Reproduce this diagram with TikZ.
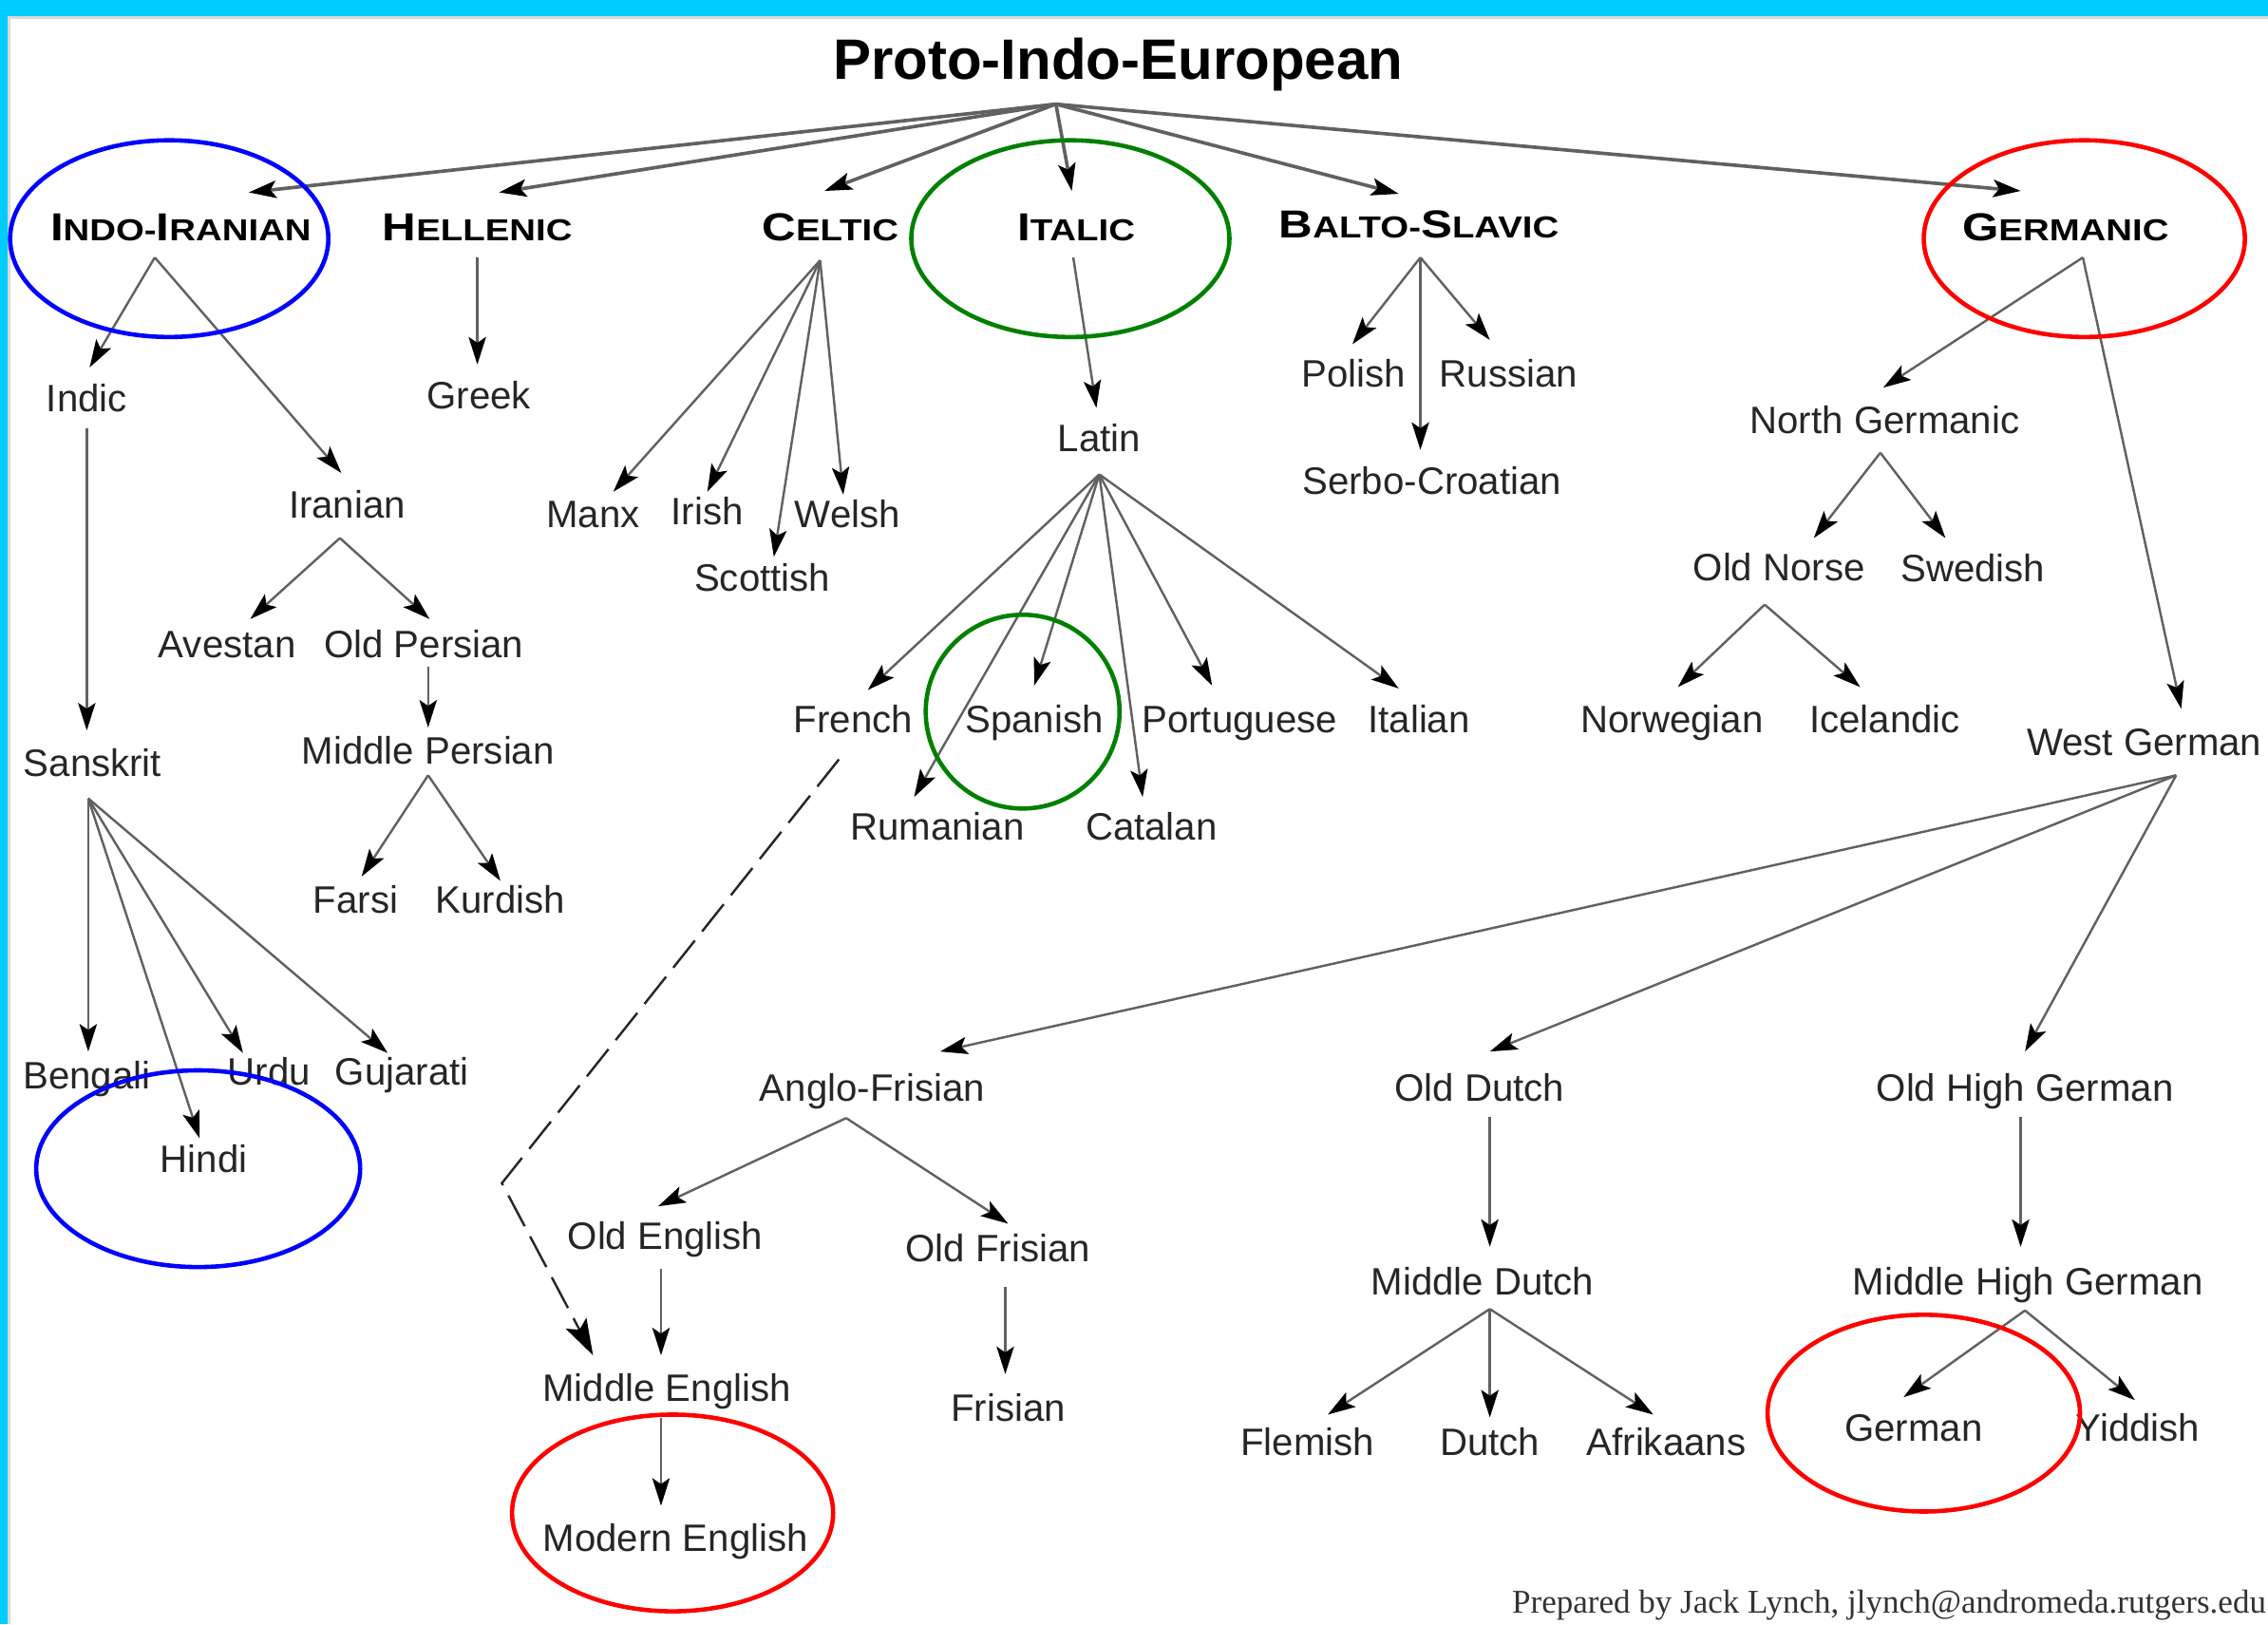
\documentclass[tikz,border=0pt]{standalone}
\usepackage{fontspec}
\setmainfont{Liberation Sans}
\newfontfamily\credfont{Liberation Serif}
\usetikzlibrary{arrows.meta,calc}
\definecolor{band}{HTML}{00CCFF}
\definecolor{ringblue}{HTML}{0000FF}
\definecolor{ringgreen}{HTML}{008000}
\definecolor{ringred}{HTML}{FF0000}
\newcommand\hbig[1]{{\fontsize{13.5}{14}\selectfont #1}}
\newcommand\hsmall[1]{{\fontsize{10.5}{11}\selectfont #1}}
\newcommand\hdg[1]{\scalebox{1.2}[1]{\bfseries #1}}
\newcommand\arw[5][conn]{\draw[#1] ($(#2)+(#3)$) -- ($(#4)+(#5)$);}
\tikzset{
  lang/.style={inner sep=0pt, text height=9.5pt, text depth=0pt,
    font=\fontsize{13.2}{14}\selectfont, text=black!85},
  head/.style={inner sep=0pt, text height=9.7pt, text depth=0pt, text=black},
  conn/.style={draw=black!62, line width=0.8pt,
    -{Stealth[length=9.5pt,width=6pt,inset=2pt,black]}},
  bigconn/.style={conn, line width=1.2pt},
  ring/.style={line width=1.5pt},
}
\begin{document}
\begin{tikzpicture}[x=0.5pt,y=-0.5pt]
\useasboundingbox (0,0) rectangle (1568,1123);
% frame
\fill[band] (0,0) rectangle (1568,11);
\fill[black!15] (5,11) rectangle (1568,13);
\fill[band] (0,0) rectangle (5,1123);
\fill[black!15] (5,11) rectangle (7,1123);

% title
\node[inner sep=0pt, text height=14.1pt, text depth=0pt, font=\bfseries\fontsize{19.7}{22}\selectfont] (pie) at (773,41) {Proto-Indo-European};

% headings
\node[head] (indoiranian) at (125,157) {\hdg{\hbig{I}\hsmall{NDO-}\hbig{I}\hsmall{RANIAN}}};
\node[head] (hellenic) at (330,157) {\hdg{\hbig{H}\hsmall{ELLENIC}}};
\node[head] (celtic) at (574,157) {\hdg{\hbig{C}\hsmall{ELTIC}}};
\node[head] (italic) at (744,157) {\hdg{\hbig{I}\hsmall{TALIC}}};
\node[head] (baltoslavic) at (981,155) {\hdg{\hbig{B}\hsmall{ALTO-}\hbig{S}\hsmall{LAVIC}}};
\node[head] (germanic) at (1428,157) {\hdg{\hbig{G}\hsmall{ERMANIC}}};

% Indo-Iranian
\node[lang] (indic) at (60,275) {Indic};
\node[lang] (iranian) at (240,349) {Iranian};
\node[lang] (avestan) at (157,445) {Avestan};
\node[lang] (oldpersian) at (293,445) {Old Persian};
\node[lang] (midpersian) at (296,519) {Middle Persian};
\node[lang] (farsi) at (246,622) {Farsi};
\node[lang] (kurdish) at (346,622) {Kurdish};
\node[lang] (sanskrit) at (64,527) {Sanskrit};
\node[lang] (bengali) at (60,743) {Bengali};
\node[lang] (urdu) at (186,741) {Urdu};
\node[lang] (gujarati) at (278,741) {Gujarati};
\node[lang] (hindi) at (141,801) {Hindi};
% Hellenic, Celtic
\node[lang] (greek) at (331,273) {Greek};
\node[lang] (manx) at (410,355) {Manx};
\node[lang] (irish) at (489,353) {Irish};
\node[lang] (welsh) at (586,355) {Welsh};
\node[lang] (scottish) at (527,399) {Scottish};
% Italic
\node[lang] (latin) at (760,303) {Latin};
\node[lang] (french) at (590,497) {French};
\node[lang] (spanish) at (715,497) {Spanish};
\node[lang] (portuguese) at (857,497) {Portuguese};
\node[lang] (italian) at (981,497) {Italian};
\node[lang] (rumanian) at (648,571) {Rumanian};
\node[lang] (catalan) at (796,571) {Catalan};
% Balto-Slavic
\node[lang] (polish) at (936,258) {Polish};
\node[lang] (russian) at (1043,258) {Russian};
\node[lang] (serbocroatian) at (990,332) {Serbo-Croatian};
% Germanic
\node[lang] (northgerm) at (1303,290) {North Germanic};
\node[lang] (oldnorse) at (1230,392) {Old Norse};
\node[lang] (swedish) at (1364,393) {Swedish};
\node[lang] (norwegian) at (1156,497) {Norwegian};
\node[lang] (icelandic) at (1303,497) {Icelandic};
\node[lang, anchor=east] (westgerm) at (1564,513) {West German};
\coordinate (wg) at (1493,513);
\node[lang] (anglofrisian) at (603,752) {Anglo-Frisian};
\node[lang] (oldenglish) at (460,854) {Old English};
\node[lang] (oldfrisian) at (690,863) {Old Frisian};
\node[lang] (midenglish) at (461,959) {Middle English};
\node[lang] (frisian) at (697,973) {Frisian};
\node[lang] (modenglish) at (467,1063) {Modern English};
\node[lang] (olddutch) at (1023,752) {Old Dutch};
\node[lang] (middutch) at (1025,886) {Middle Dutch};
\node[lang] (flemish) at (904,997) {Flemish};
\node[lang] (dutch) at (1030,997) {Dutch};
\node[lang] (afrikaans) at (1152,997) {Afrikaans};
\node[lang] (ohg) at (1400,752) {Old High German};
\node[lang] (mhg) at (1402,886) {Middle High German};
\node[lang] (german) at (1323,987) {German};
\node[lang] (yiddish) at (1478,987) {Yiddish};

% credit
\node[anchor=base west, inner sep=0pt, font=\credfont\fontsize{11.5}{12}\selectfont, text=black!80] (credit) at (1045,1115) {Prepared by Jack Lynch, jlynch@andromeda.rutgers.edu};

% PIE arrows
\arw[bigconn]{pie}{-43,31}{indoiranian}{47,-24}
\arw[bigconn]{pie}{-43,31}{hellenic}{15,-24}
\arw[bigconn]{pie}{-43,31}{celtic}{-4,-25}
\arw[bigconn]{pie}{-43,31}{italic}{-3,-25}
\arw[bigconn]{pie}{-43,31}{baltoslavic}{-14,-21}
\arw[bigconn]{pie}{-43,31}{germanic}{-31,-25}

% Indo-Iranian
\arw{indoiranian}{-18,21}{indic}{2,-21}
\arw{indoiranian}{-18,21}{iranian}{-4,-22}
\arw{iranian}{-5,23}{avestan}{16,-17}
\arw{iranian}{-5,23}{oldpersian}{4,-17}
\arw{oldpersian}{3,16}{midpersian}{0,-16}
\arw{midpersian}{0,17}{farsi}{4,-16}
\arw{midpersian}{0,17}{kurdish}{0,-13}
\arw{indic}{0,21}{sanskrit}{-4,-22}
\arw{sanskrit}{-3,25}{bengali}{1,-16}
\arw{sanskrit}{-3,25}{hindi}{-3,-14}
\arw{sanskrit}{-3,25}{urdu}{-18,-13}
\arw{sanskrit}{-3,25}{gujarati}{-10,-13}
% Hellenic
\arw{hellenic}{0,21}{greek}{-1,-21}
% Celtic
\arw{celtic}{-7,23}{manx}{14,-15}
\arw{celtic}{-7,23}{irish}{0,-13}
\arw{celtic}{-7,23}{scottish}{8,-14}
\arw{celtic}{-7,23}{welsh}{-3,-13}
% Italic
\arw{italic}{-2,21}{latin}{-2,-21}
\arw{latin}{0,25}{french}{10,-20}
\arw{latin}{0,25}{rumanian}{-16,-20}
\arw{latin}{0,25}{spanish}{0,-23}
\arw{latin}{0,25}{catalan}{-6,-20}
\arw{latin}{0,25}{portuguese}{-19,-23}
\arw{latin}{0,25}{italian}{-14,-21}
% Balto-Slavic
\arw{baltoslavic}{1,23}{polish}{-1,-20}
\arw{baltoslavic}{1,23}{russian}{-13,-23}
\arw{baltoslavic}{1,23}{serbocroatian}{-8,-21}
% Germanic
\arw{germanic}{12,21}{northgerm}{-1,-22}
\arw{germanic}{12,21}{wg}{15,-23}
\arw{northgerm}{-3,23}{oldnorse}{24,-20}
\arw{northgerm}{-3,23}{swedish}{-19,-21}
\arw{oldnorse}{-10,26}{norwegian}{4,-22}
\arw{oldnorse}{-10,26}{icelandic}{-17,-22}
\arw{wg}{11.5,23}{anglofrisian}{47,-25}
\arw{wg}{11.5,23}{olddutch}{7,-25}
\arw{wg}{11.5,23}{ohg}{0,-25}
\arw{anglofrisian}{-18,21}{oldenglish}{-5,-20}
\arw{anglofrisian}{-18,21}{oldfrisian}{7,-17}
\arw{oldenglish}{-3,23}{midenglish}{-4,-22}
\arw{oldfrisian}{5,27}{frisian}{-2,-23}
\arw{midenglish}{-4,21}{modenglish}{-10,-22}
\arw{olddutch}{7,20}{middutch}{5,-24}
\arw{middutch}{5,19}{flemish}{14,-19}
\arw{middutch}{5,19}{dutch}{0,-17}
\arw{middutch}{5,19}{afrikaans}{-9,-19}
\arw{ohg}{-3,20}{mhg}{-5,-24}
\arw{mhg}{-2,20}{german}{-7,-21}
\arw{mhg}{-2,20}{yiddish}{-2,-19}

% dashed French -> Middle English
\coordinate (kink) at (347,818);
\draw[black!85, line width=0.8pt, dash pattern=on 12pt off 4pt,
  -{Stealth[length=12.5pt,width=8pt,inset=2.5pt,black]}]
  ($(french)+(-10,28)$) -- (kink) -- ($(midenglish)+(-51,-22)$);

% rings
\draw[ring, ringblue] (117,165) ellipse [x radius=110, y radius=68];
\draw[ring, ringgreen] (740,165) ellipse [x radius=110, y radius=68];
\draw[ring, ringred] (1441,165) ellipse [x radius=111, y radius=68];
\draw[ring, ringgreen] (707,492) ellipse [x radius=67, y radius=67];
\draw[ring, ringblue] (137,808) ellipse [x radius=112, y radius=68];
\draw[ring, ringred] (465,1046) ellipse [x radius=111, y radius=68];
\draw[ring, ringred] (1330,977) ellipse [x radius=108, y radius=68];
\end{tikzpicture}
\end{document}
